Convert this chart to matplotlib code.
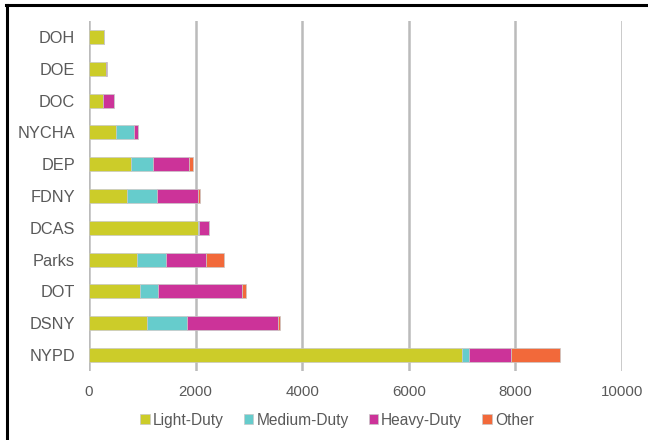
import matplotlib
matplotlib.use("Agg")
import matplotlib.pyplot as plt
from matplotlib.lines import Line2D
import numpy as np

plt.rcParams['font.family'] = ['Liberation Sans', 'DejaVu Sans']

agencies = ["DOH", "DOE", "DOC", "NYCHA", "DEP", "FDNY", "DCAS", "Parks", "DOT", "DSNY", "NYPD"]
light_duty = [280, 320, 265, 510, 795, 710, 2040, 905, 950, 1095, 7000]
medium_duty = [0, 0, 0, 340, 415, 560, 30, 535, 340, 745, 130]
heavy_duty = [10, 15, 205, 60, 670, 770, 190, 760, 1585, 1705, 785]
other = [0, 0, 0, 0, 80, 40, 0, 340, 75, 45, 930]
series_names = ["Light-Duty", "Medium-Duty", "Heavy-Duty", "Other"]
colors = ["#CCCC29", "#66CCCC", "#CC3399", "#F2693A"]
xticks = [0, 2000, 4000, 6000, 8000, 10000]

fig = plt.figure(figsize=(6.48, 4.4), dpi=100)
ax = fig.add_axes([89/648, 1-371/440, 533/648, 350/440])

y = np.arange(len(agencies))
left = np.zeros(len(agencies))
for vals, name, c in zip([light_duty, medium_duty, heavy_duty, other], series_names, colors):
    vals = np.array(vals, dtype=float)
    ax.barh(y, vals, left=left, height=0.44, color=c, edgecolor="#C8C8C8",
            linewidth=0.5, label=name, zorder=3)
    left += vals

ax.set_xlim(0, 10000)
ax.set_ylim(len(agencies) - 0.5, -0.5)
ax.set_yticks(y)
ax.set_yticklabels(agencies)
ax.set_xticks(xticks)
ax.set_xticklabels([str(t) for t in xticks])
ax.tick_params(axis='both', length=0, colors="#595959")
ax.tick_params(axis='x', pad=10, labelsize=10.8)
ax.tick_params(axis='y', pad=10, labelsize=11.8)
ax.grid(axis='x', color="#BBBBBB", linewidth=1.8, zorder=0)
for s in ax.spines.values():
    s.set_visible(False)

leg = fig.legend(loc='center', bbox_to_anchor=(337/648, 1-420/440), ncol=4,
                 frameon=False, fontsize=11.2, handlelength=0.6, handleheight=0.6,
                 handletextpad=0.2, columnspacing=1.3)
for t in leg.get_texts():
    t.set_color("#595959")

# figure border (top and left)
fig.add_artist(Line2D([6/648, 1.0], [1-5/440, 1-5/440], color="black", linewidth=2.2,
                      transform=fig.transFigure))
fig.add_artist(Line2D([7/648, 7/648], [0, 1-5/440], color="black", linewidth=2.2,
                      transform=fig.transFigure))

fig.savefig("out.png", dpi=100)
